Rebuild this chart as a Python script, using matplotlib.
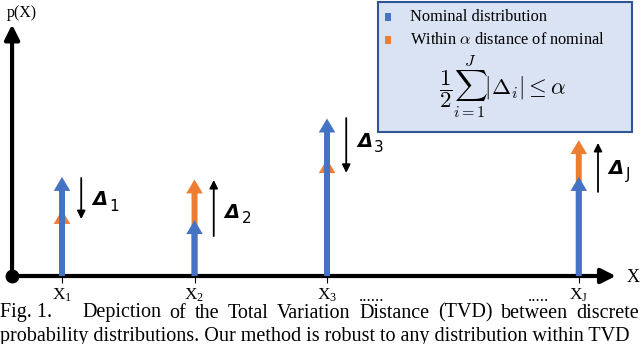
"""Sketch of the total variation distance between two discrete distributions."""

import matplotlib

matplotlib.use("Agg")
import matplotlib.pyplot as plt
from matplotlib.patches import Rectangle

# Data: support points, nominal and perturbed probabilities
labels = ["1", "2", "3", "J"]
positions = [1.0, 2.0, 3.0, 4.9]
nominal = [0.39, 0.22, 0.62, 0.39]
perturbed = [0.26, 0.38, 0.46, 0.535]

# Delta arrows (tail, head) and label heights
delta_from = [0.386, 0.157, 0.622, 0.331]
delta_to = [0.224, 0.378, 0.406, 0.524]
delta_label_y = [0.30, 0.25, 0.53, 0.425]

caption_1 = "Depiction of the Total Variation Distance (TVD) between discrete"
caption_2 = "probability distributions. Our method is robust to any distribution within TVD"

BLUE = "#4472c4"
ORANGE = "#ed7d31"
SERIF = "Liberation Serif"

W, H = 640, 344
fig = plt.figure(figsize=(W / 100, H / 100), dpi=100)
ax = fig.add_axes([0, 0, 1, 1])
ax.set_xlim(0.532, 5.362)
ax.set_ylim(-0.2677, 1.0866)
ax.axis("off")

origin_x = 0.623
x_end = 5.18
y_end = 0.99


def px(x, y):
    """Pixel position (from top-left) to figure fraction."""
    return x / W, 1 - y / H


def justified_line(text, x_left, x_right, y, **kw):
    """Spread the words of one caption line between two pixel columns."""
    renderer = fig.canvas.get_renderer()
    words = text.split()
    artists = [fig.text(0, 0, w, **kw) for w in words]
    widths = [a.get_window_extent(renderer).width for a in artists]
    gap = (x_right - x_left - sum(widths)) / (len(words) - 1)
    x = x_left
    for a, w in zip(artists, widths):
        a.set_position(px(x, y))
        x += w + gap


# coordinate axes
ax.annotate("", xy=(origin_x, y_end), xytext=(origin_x, 0),
            arrowprops=dict(arrowstyle="-|>", lw=3, color="black",
                            mutation_scale=22, shrinkA=0, shrinkB=0))
ax.annotate("", xy=(x_end, 0), xytext=(origin_x, 0),
            arrowprops=dict(arrowstyle="-|>", lw=3, color="black",
                            mutation_scale=22, shrinkA=0, shrinkB=0))
ax.plot([origin_x], [0], "o", color="black", ms=9, zorder=5)
ax.vlines(positions, -0.028, 0, color="black", lw=0.8)

fig.text(*px(7, 13), "p(X)", family=SERIF, fontsize=11.5, va="center")
fig.text(*px(627, 277), "X", family=SERIF, fontsize=13, va="center")

# probability arrows: orange behind, blue on top
for x, p_nom, p_pert in zip(positions, nominal, perturbed):
    ax.arrow(x, 0, 0, p_pert, width=0.045, head_width=0.125, head_length=0.055,
             length_includes_head=True, color=ORANGE, lw=0, zorder=2)
    ax.arrow(x, 0, 0, p_nom, width=0.045, head_width=0.125, head_length=0.055,
             length_includes_head=True, color=BLUE, lw=0, zorder=3)

# delta arrows and labels
for x, y0, y1, ly, lab in zip(positions, delta_from, delta_to, delta_label_y, labels):
    ax.annotate("", xy=(x + 0.145, y1), xytext=(x + 0.145, y0),
                arrowprops=dict(arrowstyle="-|>", lw=1.3, color="black",
                                mutation_scale=12, shrinkA=0, shrinkB=0))
    ax.annotate("Δ", xy=(x + 0.225, ly), fontsize=14, fontweight="bold",
                style="italic", va="center", ha="left")
    ax.annotate(lab, xy=(x + 0.225, ly), xytext=(12.5, -4.5),
                textcoords="offset points", fontsize=11, va="center", ha="left")

# tick labels under the axis
for x, lab in zip(positions, labels):
    ax.annotate(r"X$_{\mathregular{%s}}$" % lab, xy=(x, 0), xytext=(0, -14),
                textcoords="offset points", ha="center", va="center",
                family=SERIF, fontsize=12.5, math_fontfamily="stix")
ax.annotate("......", xy=(3.0, 0), xytext=(32, -15), textcoords="offset points",
            ha="center", va="center", family=SERIF, fontsize=12.5)
ax.annotate(".....", xy=(4.9, 0), xytext=(-29, -15), textcoords="offset points",
            ha="center", va="center", family=SERIF, fontsize=12.5)

# legend box
x0, y0 = px(378, 132)
box = Rectangle((x0, y0), 254 / W, 130 / H, transform=fig.transFigure,
                facecolor="#dae3f3", edgecolor="#2f5597", lw=1.5, zorder=6)
fig.add_artist(box)
fig.add_artist(Rectangle(px(385, 21), 6 / W, 8 / H, transform=fig.transFigure,
                         facecolor=BLUE, lw=0, zorder=7))
fig.add_artist(Rectangle(px(385, 44), 6 / W, 8 / H, transform=fig.transFigure,
                         facecolor=ORANGE, lw=0, zorder=7))
fig.text(*px(410, 17), "Nominal distribution", family=SERIF, fontsize=11.8,
         va="center", zorder=8)
fig.text(*px(410, 40), r"Within $\alpha$ distance of nominal", family=SERIF,
         fontsize=11.8, va="center", math_fontfamily="cm", zorder=8)
fig.text(*px(503, 87), r"$\dfrac{1}{2}\sum_{i=1}^{J}|\Delta_i| \leq \alpha$",
         fontsize=16.5, ha="center", va="center", math_fontfamily="cm", zorder=8)

# caption (first line justified like the paper)
caption_kw = dict(family=SERIF, fontsize=14.5, va="center")
fig.text(*px(0, 313), "Fig. 1.", **caption_kw)
justified_line(caption_1, 82, 639, 313, **caption_kw)
fig.text(*px(0, 337), caption_2, **caption_kw)

fig.savefig("out.png", dpi=100)
